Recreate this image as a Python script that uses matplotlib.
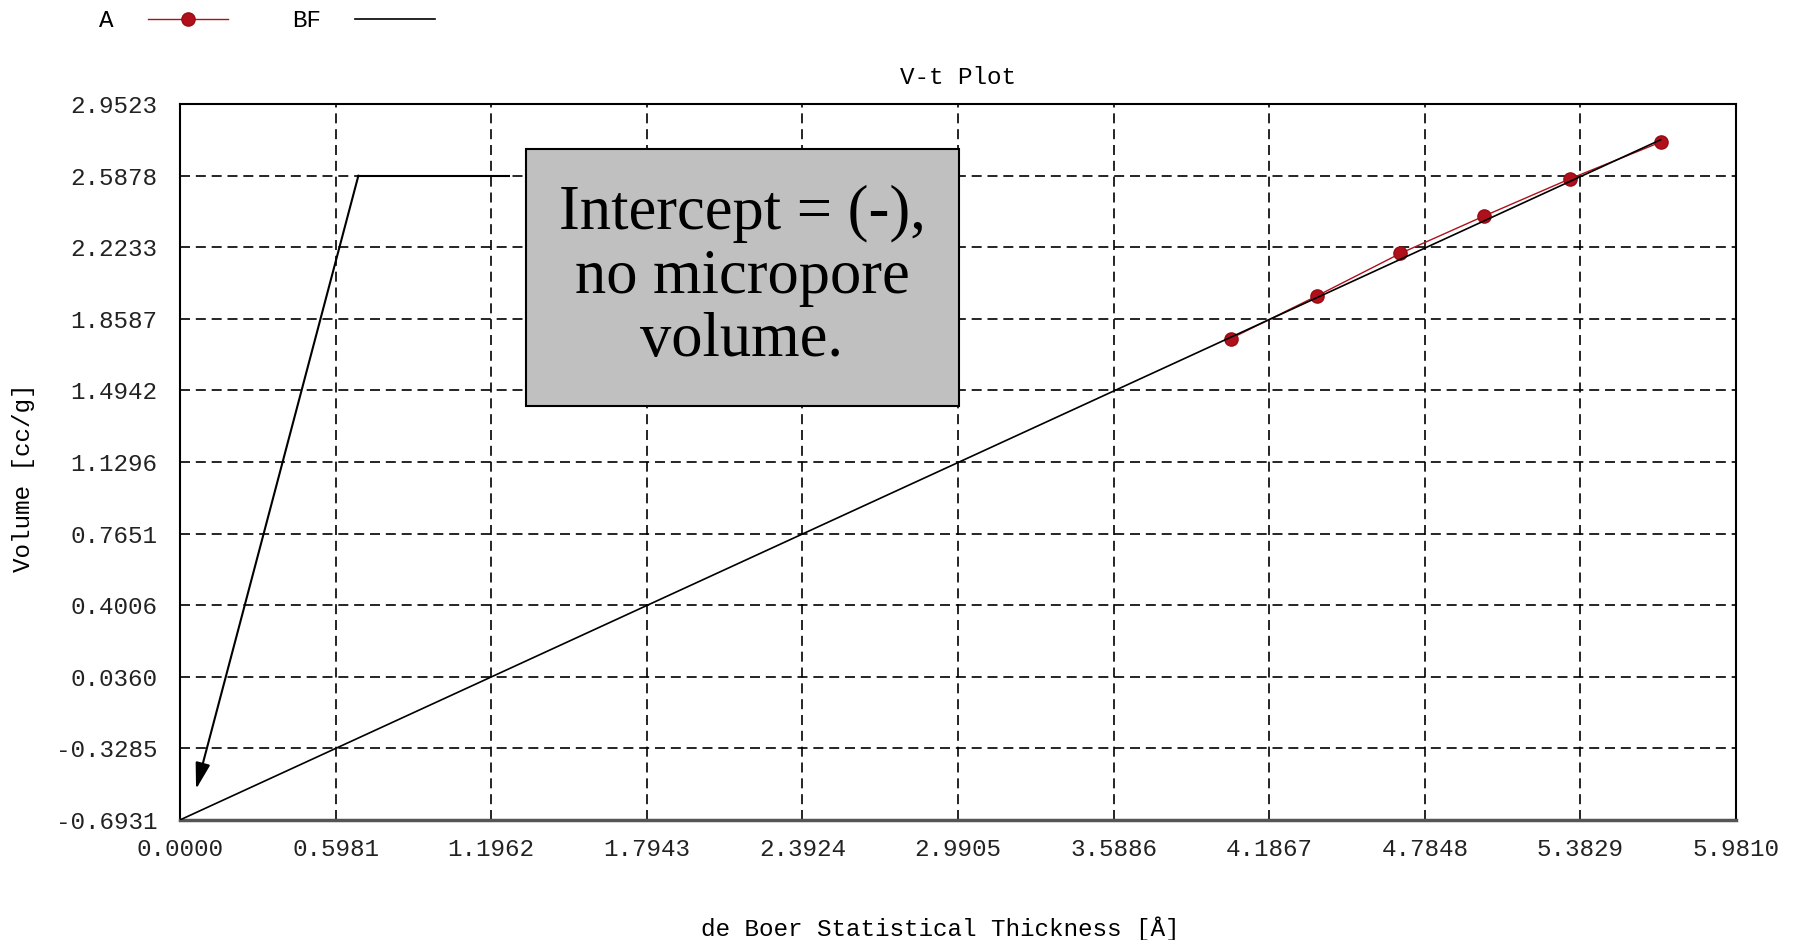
import numpy as np
import matplotlib.pyplot as plt
from matplotlib.patches import Rectangle
from matplotlib.font_manager import FontProperties

# t-plot data (de Boer thickness vs adsorbed volume)
thickness = [4.039, 4.370, 4.690, 5.013, 5.344, 5.691]
volume = [1.758, 1.975, 2.191, 2.382, 2.572, 2.758]

# best-fit line through the points
bf_slope = 0.6085
bf_intercept = -0.6931

x_ticklabels = ["0.0000", "0.5981", "1.1962", "1.7943", "2.3924", "2.9905",
                "3.5886", "4.1867", "4.7848", "5.3829", "5.9810"]
y_ticklabels = ["-0.6931", "-0.3285", "0.0360", "0.4006", "0.7651", "1.1296",
                "1.4942", "1.8587", "2.2233", "2.5878", "2.9523"]

mono = "Liberation Mono"
fs = 17.5

fig = plt.figure(figsize=(17.94, 9.40), dpi=100)
ax = fig.add_axes([0.1003, 0.1277, 0.8674, 0.7617])

xt = [float(s) for s in x_ticklabels]
yt = [float(s) for s in y_ticklabels]

ax.plot(thickness, volume, color="#b0101c", lw=1.0, marker="o", ms=9.5,
        mec="#9a0a14", mfc="#b0101c", label="A", zorder=3)
bx = np.array([0.0, max(thickness)])
ax.plot(bx, bf_slope * bx + bf_intercept, color="black", lw=1.2, label="BF", zorder=4)

ax.set_xlim(xt[0], xt[-1])
ax.set_ylim(yt[0], yt[-1])
ax.set_xticks(xt)
ax.set_yticks(yt)
ax.set_xticklabels(x_ticklabels, fontfamily=mono, fontsize=fs)
ax.set_yticklabels(y_ticklabels, fontfamily=mono, fontsize=fs)
ax.tick_params(axis="y", length=0, pad=16, colors="#222222")
ax.tick_params(axis="x", length=0, pad=13, colors="#222222")
ax.grid(True, color="black", lw=1.2, ls=(0, (6, 3.5)))
for s in ["left", "top", "right"]:
    ax.spines[s].set_linewidth(1.5)
ax.spines["bottom"].set_linewidth(2.5)
ax.spines["bottom"].set_color("#555555")

fig.text(0.534, 0.918, "V-t Plot", family=mono, fontsize=fs, ha="center", va="center")
fig.text(0.013, 0.492, "Volume [cc/g]", family=mono, fontsize=fs, rotation=90,
         ha="center", va="center")
fig.text(0.524, 0.0125, "de Boer Statistical Thickness [Å]", family=mono, fontsize=fs,
         ha="center", va="center")

ax.legend(loc="center left", bbox_to_anchor=(0.043, 0.978), bbox_transform=fig.transFigure,
          ncol=2, markerfirst=False, frameon=False,
          prop=FontProperties(family=mono, size=fs),
          handlelength=3.3, handletextpad=1.4, columnspacing=2.65)

# callout box with leader line and arrow to the intercept
fig.add_artist(Rectangle((0.2932, 0.5681), 0.2414, 0.2734, transform=fig.transFigure,
                         facecolor="#c0c0c0", edgecolor="black", lw=1.5, zorder=10))
fig.text(0.4136, 0.7048, "Intercept = (-),\nno micropore\nvolume.", family="Liberation Serif",
         fontsize=45, ha="center", va="center", multialignment="center",
         linespacing=1.12, zorder=11)
ax.plot([1.2666, 0.686], [2.5878, 2.5878], color="black", lw=1.5, zorder=6)
ax.annotate("", xy=(0.062, -0.536), xytext=(0.686, 2.5878),
            arrowprops=dict(arrowstyle="-|>,head_length=1.6,head_width=0.45",
                            color="black", lw=1.5, shrinkA=0, shrinkB=0), zorder=6)

fig.savefig("out.png", dpi=100)
